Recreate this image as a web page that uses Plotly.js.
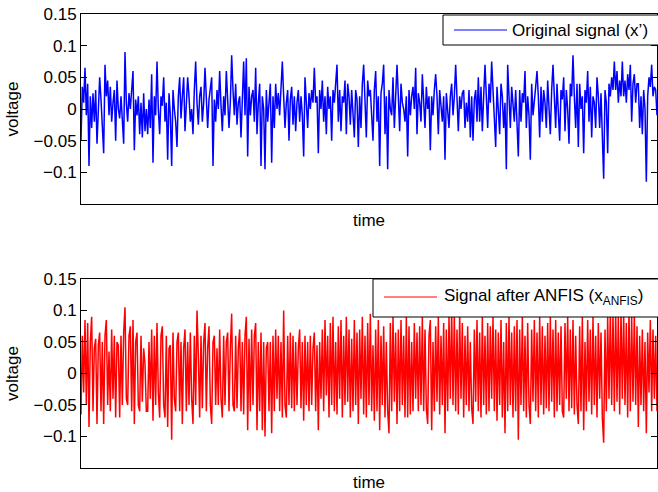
<!DOCTYPE html>
<html>
<head>
<meta charset="utf-8">
<script src="https://cdn.plot.ly/plotly-3.0.1.min.js"></script>
<style>html,body{margin:0;padding:0;background:#fff;}#chart{width:658px;height:492px;}</style>
</head>
<body>
<div id="chart"></div>
<script>
// Original signal (x')
var originalSignal = [
-0.05,0.035,0.01,0.065,-0.01,0.04,-0.09,0.02,-0.03,0.025,
-0.02,0.03,-0.055,0.01,0.05,0.015,-0.03,-0.07,0.07,0.02,
0.045,-0.01,0.035,-0.02,0.01,0.03,-0.05,0.045,0.0,-0.015,
0.02,-0.01,-0.055,0.09,0.01,-0.02,0.025,0.0,0.03,0.06,
-0.065,0.015,-0.01,0.02,-0.04,0.01,-0.045,0.025,-0.035,0.0,
-0.04,0.015,-0.03,0.055,-0.085,0.02,-0.01,0.075,0.0,-0.04,
0.02,0.005,0.05,-0.02,0.01,-0.08,0.025,-0.01,-0.09,0.03,
0.0,-0.02,-0.06,0.02,0.05,-0.015,0.02,0.05,-0.035,0.01,
0.05,0.02,-0.02,0.0,-0.04,0.03,0.075,0.01,-0.025,0.02,
0.035,-0.02,0.01,0.065,0.02,-0.03,0.015,0.03,0.05,-0.09,
0.015,-0.02,0.03,0.0,0.06,0.005,-0.035,0.02,-0.01,0.06,
0.02,-0.03,0.01,0.085,0.03,-0.01,0.04,-0.025,0.01,0.02,
-0.045,0.03,0.075,-0.01,0.08,-0.075,0.035,-0.01,0.02,0.03,
-0.02,0.065,-0.04,0.01,0.04,-0.09,0.02,0.0,-0.095,0.03,
-0.02,0.01,0.04,-0.085,0.02,-0.03,0.04,0.0,0.025,-0.01,
0.03,0.075,0.02,-0.03,0.01,0.03,-0.05,0.015,0.035,-0.025,
0.02,-0.035,0.01,0.03,-0.02,0.02,-0.01,-0.075,0.05,0.0,
-0.03,0.025,0.0,0.03,0.01,0.065,0.01,0.02,-0.07,0.03,
0.0,0.045,-0.02,0.02,-0.04,0.035,0.0,0.02,-0.05,0.03,
0.01,0.04,0.07,-0.02,0.03,-0.035,0.02,0.01,0.045,-0.04,
0.04,0.02,-0.025,0.03,0.0,-0.045,0.03,0.015,-0.06,0.02,
-0.03,0.04,0.07,0.01,-0.045,0.045,0.02,0.03,-0.01,-0.05,
0.03,0.06,-0.02,0.02,-0.09,0.025,0.04,0.07,-0.04,0.02,
-0.095,0.03,0.0,-0.01,0.05,-0.03,0.02,0.07,0.02,-0.035,
0.04,0.01,0.0,-0.02,0.02,-0.075,0.03,-0.01,0.02,0.035,
0.0,0.065,-0.04,0.025,0.01,-0.02,0.055,0.01,-0.03,0.035,
0.0,0.02,-0.065,0.02,-0.01,0.03,0.055,0.02,-0.04,0.03,
0.01,-0.02,0.02,-0.08,0.025,0.0,-0.03,0.02,0.04,-0.01,
0.02,0.07,0.01,-0.035,0.02,0.0,0.025,0.03,-0.03,0.01,
-0.02,0.03,-0.045,0.02,-0.05,0.015,0.03,-0.02,0.05,-0.02,
0.035,-0.035,0.02,0.07,0.02,-0.03,0.04,0.01,0.075,0.03,
-0.02,-0.06,0.035,0.0,-0.04,0.04,0.02,-0.03,0.01,-0.095,
0.07,0.02,-0.03,0.035,0.0,-0.02,0.03,-0.04,-0.075,0.03,
-0.02,0.025,0.01,0.06,-0.03,0.02,-0.01,-0.08,0.04,-0.01,
0.02,0.035,0.06,0.02,-0.045,0.035,-0.02,0.03,0.01,-0.03,
0.045,0.01,-0.04,0.03,0.07,0.02,-0.03,0.04,0.0,-0.05,
0.03,0.015,0.05,-0.035,0.03,0.0,-0.055,0.04,0.02,0.085,
0.02,-0.03,0.04,-0.06,0.04,0.0,0.02,-0.07,0.03,0.01,
0.06,-0.02,0.035,-0.045,0.02,0.01,-0.03,0.05,0.02,-0.03,
0.025,-0.04,-0.11,0.03,0.01,-0.07,0.04,0.02,0.05,0.03,
0.075,0.03,0.06,0.01,0.045,0.02,0.075,0.02,0.045,0.01,
0.055,0.03,0.07,-0.02,0.04,0.055,0.01,0.04,0.04,-0.03,
0.02,-0.04,0.03,0.0,-0.115,0.02,0.05,0.035,0.07,0.02,
0.035,0.03,-0.01
];
// Signal after ANFIS
var anfisSignal = [
-0.065,0.06,-0.03,0.085,-0.05,0.08,-0.085,0.05,0.09,-0.06,
0.04,0.055,-0.08,0.045,0.065,-0.06,0.05,-0.08,0.06,0.085,
-0.05,0.035,-0.06,0.07,-0.04,0.06,-0.07,0.05,0.045,-0.07,
0.06,-0.05,0.065,0.105,-0.04,-0.05,0.06,0.075,-0.06,0.085,
-0.08,0.05,0.065,-0.05,-0.06,0.06,-0.045,0.04,0.015,-0.06,
-0.06,0.05,-0.04,0.07,-0.075,0.06,-0.05,0.08,-0.03,-0.07,
0.06,0.075,-0.05,-0.07,0.06,-0.085,0.04,0.045,-0.105,0.065,
-0.04,-0.06,0.05,0.065,-0.06,0.05,-0.08,0.04,0.07,-0.06,
0.05,-0.05,0.065,-0.04,-0.08,0.06,-0.05,0.1,0.03,-0.07,
0.06,-0.055,0.05,0.08,-0.06,0.04,0.075,-0.05,-0.08,0.05,
0.06,-0.05,0.04,-0.05,0.07,-0.04,-0.07,0.06,-0.05,0.05,
0.065,-0.06,0.04,0.095,-0.05,-0.06,0.06,-0.055,0.04,0.07,
-0.06,0.05,-0.065,0.06,0.09,-0.09,0.055,-0.06,0.07,-0.05,
0.06,0.08,-0.09,0.05,-0.06,0.065,-0.09,0.05,-0.1,0.04,
0.05,-0.06,0.05,-0.095,0.06,-0.06,0.07,-0.04,0.06,-0.06,
0.05,-0.07,0.1,-0.05,-0.07,0.06,-0.05,0.065,-0.055,0.06,
-0.06,0.05,-0.05,0.04,0.07,-0.055,0.05,-0.075,0.06,-0.05,
0.05,-0.06,0.06,-0.05,0.04,0.065,-0.06,0.045,-0.09,0.05,
-0.04,0.07,-0.06,0.085,-0.035,0.06,-0.07,0.08,-0.05,0.09,
-0.06,0.05,-0.065,0.075,-0.04,0.085,-0.07,0.06,-0.05,0.09,
-0.045,0.07,-0.07,0.055,-0.06,0.085,-0.05,0.065,-0.08,0.07,
-0.04,0.09,-0.065,0.06,-0.07,0.08,-0.05,0.095,-0.06,0.045,
-0.075,0.07,-0.06,0.085,-0.09,0.06,-0.05,0.075,-0.07,0.05,
-0.06,-0.095,0.08,-0.06,0.09,-0.045,0.065,-0.08,0.07,-0.06,
0.085,-0.05,0.06,-0.07,0.09,-0.07,0.075,-0.065,0.05,-0.06,
0.08,-0.04,0.065,-0.06,0.075,-0.05,0.09,-0.06,0.07,-0.055,
-0.08,0.06,0.085,-0.09,0.05,-0.06,0.075,-0.045,0.09,-0.065,
0.06,-0.05,0.08,-0.095,0.07,-0.06,0.09,-0.04,0.1,-0.05,
0.095,-0.06,0.07,-0.065,0.095,-0.04,0.08,-0.07,0.06,-0.05,
0.075,-0.06,0.05,-0.055,-0.08,0.07,-0.045,0.085,-0.06,0.065,
-0.07,0.09,-0.05,0.06,-0.065,0.08,-0.06,0.075,-0.04,0.09,
-0.06,0.07,-0.075,0.065,-0.05,0.085,-0.07,0.05,-0.095,0.08,
-0.06,0.09,-0.05,0.065,-0.07,0.075,-0.06,0.085,-0.105,0.07,
-0.05,0.09,-0.06,0.06,-0.07,0.08,-0.05,-0.08,0.07,-0.045,
0.085,-0.06,0.065,-0.07,0.09,-0.05,0.075,-0.065,0.06,-0.055,
0.08,-0.06,0.09,-0.045,0.07,-0.07,0.085,-0.06,0.065,-0.05,
0.075,-0.06,-0.07,0.08,-0.04,0.09,-0.06,0.07,-0.055,0.085,
-0.065,0.06,-0.05,-0.08,0.075,-0.06,0.09,-0.09,0.05,-0.06,
0.085,-0.045,0.07,-0.065,0.09,-0.05,0.06,-0.07,0.08,-0.04,
0.065,-0.07,-0.11,0.07,-0.06,0.09,-0.04,0.1,-0.05,0.095,
-0.06,0.1,-0.045,0.09,-0.065,0.1,-0.04,0.095,-0.05,0.08,
-0.07,0.1,-0.06,0.09,-0.045,0.095,-0.05,0.075,-0.085,0.06,
-0.05,0.07,-0.06,0.05,-0.095,0.065,-0.03,0.085,-0.06,0.07,
-0.04,0.06,-0.06
];
var timeIndex = originalSignal.map(function(_, i){ return i + 1; });
var yTickVals = [-0.1, -0.05, 0, 0.05, 0.1, 0.15];
var yTickText = ['\u22120.1', '\u22120.05', '0', '0.05', '0.1', '0.15'];
var labels = {
  top: 'Original signal (x\u2019)',
  bottom: 'Signal after ANFIS (x<sub>ANFIS</sub>)',
  x: 'time',
  y: 'voltage'
};
var colors = {top: '#0000ff', bottom: '#ff0000'};

var FONT = 'Liberation Sans, Arial, Helvetica, sans-serif';
var FS = 17;

var traces = [
  {x: timeIndex, y: originalSignal, type: 'scatter', mode: 'lines', name: labels.top,
   line: {color: colors.top, width: 1.5}, xaxis: 'x', yaxis: 'y', showlegend: false},
  {x: timeIndex, y: anfisSignal, type: 'scatter', mode: 'lines', name: labels.bottom,
   line: {color: colors.bottom, width: 1.5}, xaxis: 'x2', yaxis: 'y2', showlegend: false}
];

function xAx(anchor) {
  return {
    anchor: anchor, domain: [0, 1], range: [1, timeIndex.length],
    showline: true, mirror: true, linecolor: '#000', linewidth: 1,
    ticks: '', showticklabels: false, showgrid: false, zeroline: false,
    title: {text: labels.x, font: {family: FONT, size: FS, color: '#000'}, standoff: 10}
  };
}
function yAx(anchor, domain) {
  return {
    anchor: anchor, domain: domain, range: [-0.15, 0.15],
    tickmode: 'array', tickvals: yTickVals, ticktext: yTickText,
    ticks: 'inside', ticklen: 6, tickcolor: '#000', tickwidth: 1,
    showline: true, mirror: 'ticks', linecolor: '#000', linewidth: 1,
    showgrid: false, zeroline: false,
    tickfont: {family: FONT, size: FS, color: '#000'},
    title: {text: labels.y, font: {family: FONT, size: FS, color: '#000'}, standoff: 10}
  };
}

// px -> paper helpers (plot area: x 81..657, y 14..468)
function px(x) { return (x - 81) / 576; }
function py(y) { return (468 - y) / 454; }

// legend boxes (drawn like the MATLAB legends, clipped at the right edge)
function legendParts(box, lineX, textX, midY, color, text) {
  return {
    shapes: [
      {type: 'rect', xref: 'paper', yref: 'paper', x0: px(box[0]), x1: px(box[1]),
       y0: py(box[3]), y1: py(box[2]), fillcolor: '#fff', line: {color: '#000', width: 1}, layer: 'above'},
      {type: 'line', xref: 'paper', yref: 'paper', x0: px(lineX[0]), x1: px(lineX[1]),
       y0: py(midY), y1: py(midY), line: {color: color, width: 1}, layer: 'above'}
    ],
    annotation: {xref: 'paper', yref: 'paper', x: px(textX), y: py(midY), xanchor: 'left', yanchor: 'middle',
      text: text, showarrow: false, font: {family: FONT, size: FS, color: '#000'}}
  };
}
var legTop = legendParts([443, 700, 15, 45], [454, 507], 510, 30, colors.top, labels.top);
var legBot = legendParts([373, 700, 279, 317], [384, 437], 442, 297, colors.bottom, labels.bottom);

var layout = {
  width: 658, height: 492,
  margin: {l: 81, r: 1, t: 14, b: 24},
  paper_bgcolor: '#fff', plot_bgcolor: '#fff',
  showlegend: false,
  font: {family: FONT, size: FS, color: '#000'},
  xaxis: xAx('y'),
  yaxis: yAx('x', [0.5815, 1]),
  xaxis2: xAx('y2'),
  yaxis2: yAx('x2', [0, 0.4163]),
  shapes: legTop.shapes.concat(legBot.shapes),
  annotations: [legTop.annotation, legBot.annotation]
};

Plotly.newPlot('chart', traces, layout, {staticPlot: true, displayModeBar: false});
</script>
</body>
</html>
